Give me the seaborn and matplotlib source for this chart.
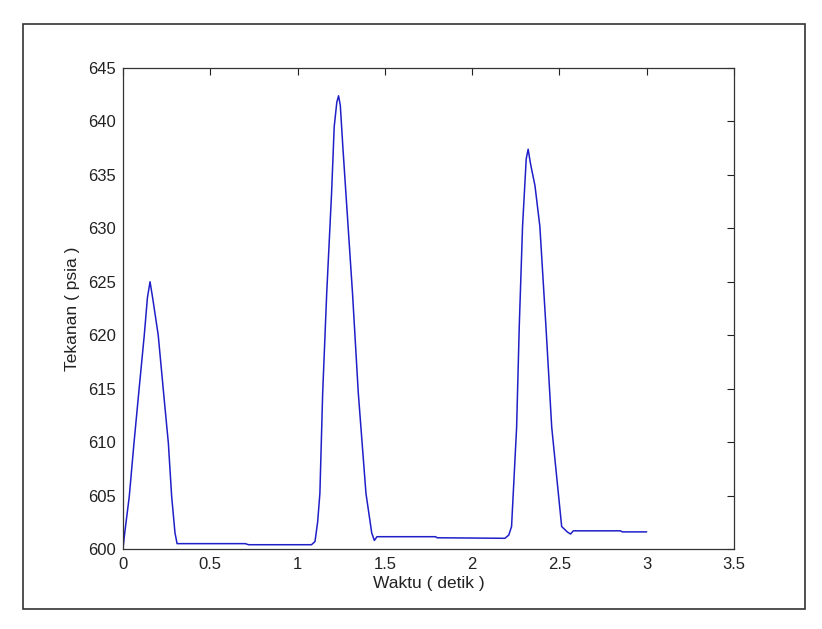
import matplotlib
matplotlib.use("Agg")
import matplotlib.pyplot as plt
import seaborn as sns
import pandas as pd
from matplotlib.patches import Rectangle

# Data
waktu = [0, 0.01, 0.036, 0.063, 0.092, 0.122, 0.14, 0.155, 0.17, 0.202, 0.231, 0.26,
         0.279, 0.298, 0.31, 0.32, 0.70, 0.72, 1.08, 1.10, 1.115, 1.128, 1.144, 1.167,
         1.195, 1.21, 1.225, 1.235, 1.245, 1.26, 1.277, 1.315, 1.348, 1.392, 1.425, 1.44,
         1.455, 1.79, 1.80, 2.188, 2.21, 2.226, 2.255, 2.27, 2.289, 2.31, 2.321, 2.335,
         2.36, 2.388, 2.423, 2.456, 2.513, 2.545, 2.564, 2.58, 2.85, 2.86, 3.0]
tekanan = [600.0, 601.5, 604.9, 609.9, 614.9, 620.0, 623.5, 625.0, 623.5, 620.0, 614.9, 609.9,
           604.9, 601.5, 600.5, 600.5, 600.5, 600.4, 600.4, 600.7, 602.5, 605.2, 614.6, 623.9,
           633.3, 639.5, 641.8, 642.4, 641.5, 637.5, 633.3, 623.9, 614.6, 605.2, 601.5, 600.8,
           601.15, 601.15, 601.05, 601.0, 601.3, 602.1, 611.4, 620.8, 630.2, 636.5, 637.4, 636.0,
           634.0, 630.2, 620.8, 611.4, 602.1, 601.6, 601.4, 601.7, 601.7, 601.6, 601.6]

x_ticks = [0, 0.5, 1, 1.5, 2, 2.5, 3, 3.5]
x_tick_labels = ["0", "0.5", "1", "1.5", "2", "2.5", "3", "3.5"]
y_ticks = [600, 605, 610, 615, 620, 625, 630, 635, 640, 645]

df = pd.DataFrame({"Waktu": waktu, "Tekanan": tekanan})

sns.set_style("white")
plt.rcParams["font.family"] = ["Liberation Sans", "DejaVu Sans"]

fig = plt.figure(figsize=(8.22, 6.29), dpi=100)
ax = fig.add_axes([0.1496, 0.1272, 0.7433, 0.7647])

sns.lineplot(data=df, x="Waktu", y="Tekanan", ax=ax, sort=False, estimator=None,
             color="#1f1fc8", linewidth=1.1)

ax.set_xlim(0, 3.5)
ax.set_ylim(600, 645)
ax.set_xticks(x_ticks)
ax.set_xticklabels(x_tick_labels)
ax.set_yticks(y_ticks)
ax.set_yticklabels([str(v) for v in y_ticks])
ax.tick_params(direction="in", length=5, width=0.8, top=True, right=True,
               labelsize=12, colors="#222222", labelcolor="#222222")
ax.tick_params(axis="x", pad=6)
ax.tick_params(axis="y", pad=5)
ax.set_xlabel("Waktu ( detik )", fontsize=12.5, color="#222222", labelpad=3)
ax.set_ylabel("Tekanan ( psia )", fontsize=12.5, color="#222222", labelpad=6)
for s in ax.spines.values():
    s.set_visible(True)
    s.set_color("#333333")
    s.set_linewidth(0.9)

# outer figure frame
fig.patches.append(Rectangle((23 / 822, 1 - 609 / 629), (805 - 23) / 822, (609 - 24) / 629,
                             transform=fig.transFigure, fill=False,
                             edgecolor="#333333", linewidth=1.2))

fig.savefig("out.png", dpi=100)
